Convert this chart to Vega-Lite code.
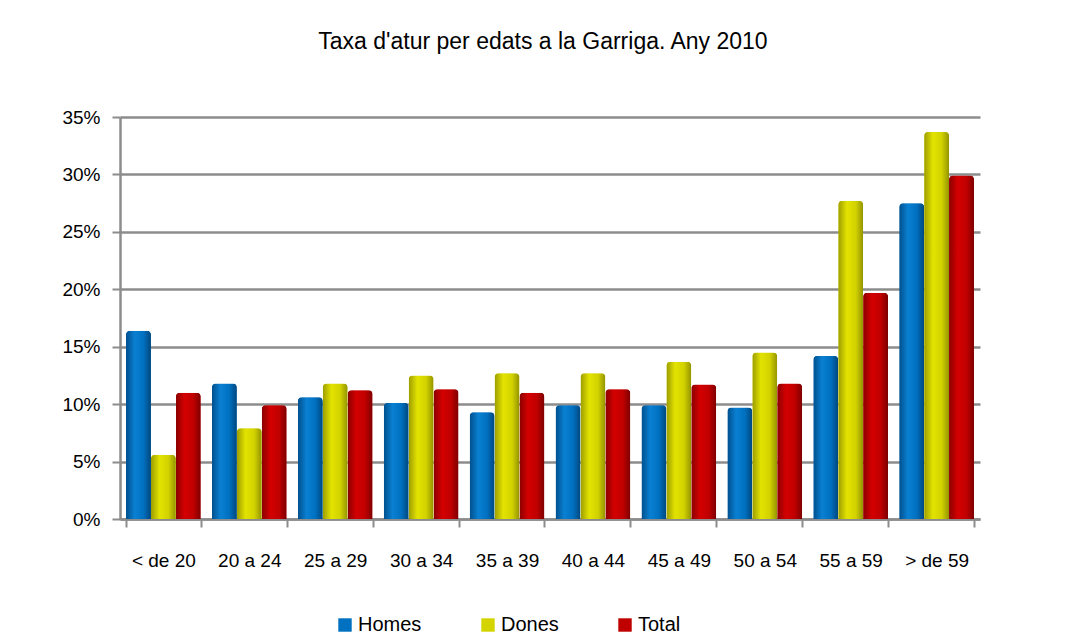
{
  "$schema": "https://vega.github.io/schema/vega-lite/v6.json",
  "width": 860,
  "height": 402,
  "autosize": {"type": "none"},
  "padding": {"left": 120, "top": 117, "right": 98, "bottom": 120},
  "background": "white",
  "config": {
    "view": {"stroke": null},
    "font": "Liberation Sans"
  },
  "title": {
    "text": "Taxa d'atur per edats a la Garriga. Any 2010",
    "fontSize": 23,
    "font": "Liberation Sans",
    "fontWeight": "normal",
    "color": "#000000",
    "offset": 54,
    "dx": -7,
    "anchor": "middle"
  },
  "data": {
    "values": [
      {"edat": "< de 20", "serie": "Homes", "taxa": 0.164},
      {"edat": "< de 20", "serie": "Dones", "taxa": 0.056},
      {"edat": "< de 20", "serie": "Total", "taxa": 0.110},
      {"edat": "20 a 24", "serie": "Homes", "taxa": 0.118},
      {"edat": "20 a 24", "serie": "Dones", "taxa": 0.079},
      {"edat": "20 a 24", "serie": "Total", "taxa": 0.099},
      {"edat": "25 a 29", "serie": "Homes", "taxa": 0.106},
      {"edat": "25 a 29", "serie": "Dones", "taxa": 0.118},
      {"edat": "25 a 29", "serie": "Total", "taxa": 0.112},
      {"edat": "30 a 34", "serie": "Homes", "taxa": 0.101},
      {"edat": "30 a 34", "serie": "Dones", "taxa": 0.125},
      {"edat": "30 a 34", "serie": "Total", "taxa": 0.113},
      {"edat": "35 a 39", "serie": "Homes", "taxa": 0.093},
      {"edat": "35 a 39", "serie": "Dones", "taxa": 0.127},
      {"edat": "35 a 39", "serie": "Total", "taxa": 0.110},
      {"edat": "40 a 44", "serie": "Homes", "taxa": 0.099},
      {"edat": "40 a 44", "serie": "Dones", "taxa": 0.127},
      {"edat": "40 a 44", "serie": "Total", "taxa": 0.113},
      {"edat": "45 a 49", "serie": "Homes", "taxa": 0.099},
      {"edat": "45 a 49", "serie": "Dones", "taxa": 0.137},
      {"edat": "45 a 49", "serie": "Total", "taxa": 0.117},
      {"edat": "50 a 54", "serie": "Homes", "taxa": 0.097},
      {"edat": "50 a 54", "serie": "Dones", "taxa": 0.145},
      {"edat": "50 a 54", "serie": "Total", "taxa": 0.118},
      {"edat": "55 a 59", "serie": "Homes", "taxa": 0.142},
      {"edat": "55 a 59", "serie": "Dones", "taxa": 0.277},
      {"edat": "55 a 59", "serie": "Total", "taxa": 0.197},
      {"edat": "> de 59", "serie": "Homes", "taxa": 0.275},
      {"edat": "> de 59", "serie": "Dones", "taxa": 0.337},
      {"edat": "> de 59", "serie": "Total", "taxa": 0.299}
    ]
  },
  "encoding": {
    "x": {
      "field": "edat",
      "type": "nominal",
      "sort": ["< de 20", "20 a 24", "25 a 29", "30 a 34", "35 a 39", "40 a 44", "45 a 49", "50 a 54", "55 a 59", "> de 59"],
      "scale": {"paddingInner": 0.13, "paddingOuter": 0.07},
      "axis": {
        "title": null,
        "labelAngle": 0,
        "labelFontSize": 19,
        "labelColor": "#000000",
        "labelPadding": 24,
        "tickSize": 8,
        "tickBand": "extent",
        "tickColor": "#8c8c8c",
        "tickWidth": 2,
        "domainColor": "#8c8c8c",
        "domainWidth": 2.5,
        "grid": false
      }
    },
    "xOffset": {
      "field": "serie",
      "type": "nominal",
      "scale": {"domain": ["Homes", "Dones", "Total"], "paddingInner": 0, "paddingOuter": 0}
    },
    "y": {
      "field": "taxa",
      "type": "quantitative",
      "scale": {"domain": [0, 0.35], "nice": false},
      "axis": {
        "title": null,
        "format": ".0%",
        "values": [0, 0.05, 0.1, 0.15, 0.2, 0.25, 0.3, 0.35],
        "labelFontSize": 19,
        "labelColor": "#000000",
        "labelPadding": 12,
        "tickSize": 8,
        "tickColor": "#8c8c8c",
        "tickWidth": 2,
        "domainColor": "#8c8c8c",
        "domainWidth": 2.5,
        "grid": true,
        "gridColor": "#8c8c8c",
        "gridWidth": 2.5
      }
    }
  },
  "layer": [
    {
      "mark": {"type": "bar", "cornerRadiusEnd": 4},
      "encoding": {
        "color": {
          "field": "serie",
          "type": "nominal",
          "scale": {"domain": ["Homes", "Dones", "Total"], "range": ["#0070c0", "#d4d400", "#c00000"]},
          "legend": {
            "title": null,
            "orient": "none",
            "direction": "horizontal",
            "legendX": 215,
            "legendY": 498,
            "symbolType": "square",
            "symbolSize": 180,
            "symbolStrokeWidth": 0,
            "labelFontSize": 20,
            "labelColor": "#000000",
            "columnPadding": 56,
            "labelOffset": 3
          }
        }
      }
    },
    {
      "transform": [{"filter": "datum.serie === 'Homes'"}],
      "mark": {
        "type": "bar",
        "cornerRadiusEnd": 4,
        "color": {
          "gradient": "linear", "x1": 0, "x2": 1, "y1": 0, "y2": 0,
          "stops": [
            {"offset": 0, "color": "#004f8c"},
            {"offset": 0.35, "color": "#0a80d2"},
            {"offset": 0.7, "color": "#0070c0"},
            {"offset": 1, "color": "#00477d"}
          ]
        }
      }
    },
    {
      "transform": [{"filter": "datum.serie === 'Dones'"}],
      "mark": {
        "type": "bar",
        "cornerRadiusEnd": 4,
        "color": {
          "gradient": "linear", "x1": 0, "x2": 1, "y1": 0, "y2": 0,
          "stops": [
            {"offset": 0, "color": "#9c9c00"},
            {"offset": 0.35, "color": "#e3e300"},
            {"offset": 0.7, "color": "#d2d200"},
            {"offset": 1, "color": "#939300"}
          ]
        }
      }
    },
    {
      "transform": [{"filter": "datum.serie === 'Total'"}],
      "mark": {
        "type": "bar",
        "cornerRadiusEnd": 4,
        "color": {
          "gradient": "linear", "x1": 0, "x2": 1, "y1": 0, "y2": 0,
          "stops": [
            {"offset": 0, "color": "#8a0000"},
            {"offset": 0.35, "color": "#d40000"},
            {"offset": 0.7, "color": "#c00000"},
            {"offset": 1, "color": "#7d0000"}
          ]
        }
      }
    }
  ]
}
